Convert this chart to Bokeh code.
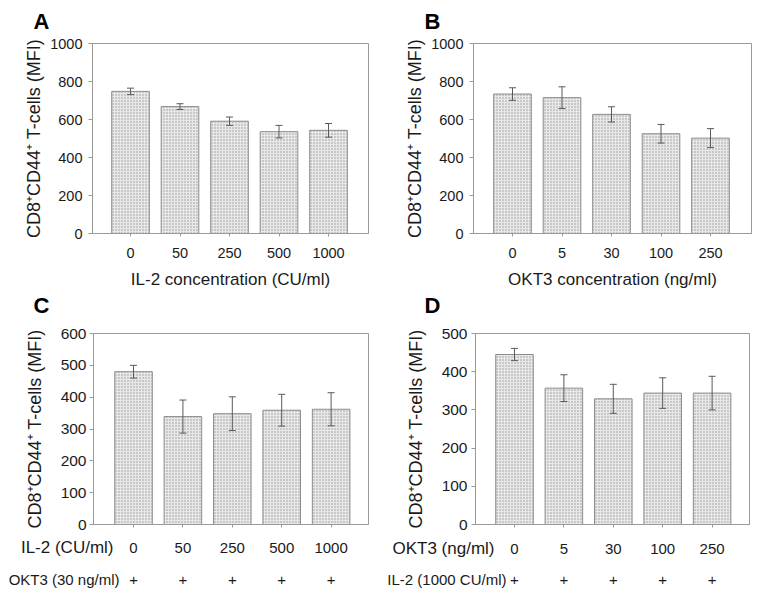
from bokeh.plotting import figure
from bokeh.models import (ColumnDataSource, Range1d, FixedTicker,
                          Whisker, TeeHead, Title)
from bokeh.core.properties import value
from bokeh.layouts import column, row
from bokeh.embed import file_html
from bokeh.resources import INLINE

# ---------------- data ----------------
a_cats = ["0", "50", "250", "500", "1000"]
a_mean = [748, 668, 591, 536, 543]
a_err = [17, 15, 22, 33, 36]
a_yticks = [0, 200, 400, 600, 800, 1000]

b_cats = ["0", "5", "30", "100", "250"]
b_mean = [734, 715, 627, 525, 502]
b_err = [33, 57, 40, 49, 50]
b_yticks = [0, 200, 400, 600, 800, 1000]

c_cats = ["0", "50", "250", "500", "1000"]
c_mean = [480, 339, 348, 359, 362]
c_err = [20, 52, 53, 50, 52]
c_yticks = [0, 100, 200, 300, 400, 500, 600]
c_row1 = "IL-2 (CU/ml)"
c_row2 = "OKT3 (30 ng/ml)"
c_plus = ["+", "+", "+", "+", "+"]

d_cats = ["0", "5", "30", "100", "250"]
d_mean = [445, 357, 329, 344, 344]
d_err = [16, 35, 38, 40, 44]
d_yticks = [0, 100, 200, 300, 400, 500]
d_row1 = "OKT3 (ng/ml)"
d_row2 = "IL-2 (1000 CU/ml)"
d_plus = ["+", "+", "+", "+", "+"]

y_label = "CD8\u207aCD44\u207a T-cells (MFI)"
FONT = "Liberation Sans"
TXT = "#1a1a1a"
GRAY = "#9a9a9a"


def panel(cats, means, errs, yticks, g, letter=None, xlabel=None):
    n = len(cats)
    xs = list(range(n))
    src = ColumnDataSource(dict(
        x=xs, top=means,
        upper=[m + e for m, e in zip(means, errs)],
        lower=[m - e for m, e in zip(means, errs)]))
    p = figure(width=g["W"], height=g["H"],
               x_range=Range1d(g["xs"], g["xe"]),
               y_range=Range1d(0, g["ymax"]),
               output_backend="svg", toolbar_location=None,
               min_border_left=g["left"], min_border_top=g["top"],
               min_border_right=g["W"] - g["left"] - g["fw"],
               min_border_bottom=g["H"] - g["top"] - g["fh"])
    p.grid.visible = False
    p.outline_line_color = GRAY
    p.outline_line_width = 1
    p.background_fill_color = "white"
    p.border_fill_color = "white"

    p.vbar(x="x", top="top", bottom=0, width=0.76, source=src,
           fill_color="#e8e8e8", line_color="#8c8c8c", line_width=1,
           hatch_pattern="dot", hatch_color="#989898", hatch_scale=3,
           hatch_weight=1)
    w = Whisker(base="x", upper="upper", lower="lower", source=src,
                line_color="#5a5a5a", line_width=1, level="annotation",
                upper_head=TeeHead(size=7, line_color="#5a5a5a", line_width=1),
                lower_head=TeeHead(size=7, line_color="#5a5a5a", line_width=1))
    p.add_layout(w)

    xa = p.xaxis[0]
    xa.ticker = FixedTicker(ticks=xs)
    xa.major_tick_out = 3
    xa.major_tick_in = 0
    xa.minor_tick_line_color = None
    xa.axis_line_color = GRAY
    xa.major_tick_line_color = GRAY
    if xlabel:
        xa.major_label_overrides = {i: c for i, c in enumerate(cats)}
        xa.major_label_text_font = FONT
        xa.major_label_text_font_size = "14.5px"
        xa.major_label_text_color = TXT
        xa.major_label_standoff = 11
        xa.axis_label = xlabel
        xa.axis_label_text_font = FONT
        xa.axis_label_text_font_style = "normal"
        xa.axis_label_text_font_size = "17px"
        xa.axis_label_text_color = TXT
        xa.axis_label_standoff = 9
    else:
        # category texts of the lower panels are drawn in the strip below
        xa.major_label_text_color = None
        xa.major_label_standoff = 0

    ya = p.yaxis[0]
    ya.ticker = FixedTicker(ticks=yticks)
    ya.major_tick_out = 4
    ya.major_tick_in = 0
    ya.minor_tick_line_color = None
    ya.axis_line_color = GRAY
    ya.major_tick_line_color = GRAY
    ya.major_label_text_font = FONT
    ya.major_label_text_font_size = g["yfs"]
    ya.major_label_text_color = TXT
    ya.major_label_standoff = g["ystand"]
    ya.axis_label = y_label
    ya.axis_label_text_font = FONT
    ya.axis_label_text_font_style = "normal"
    ya.axis_label_text_font_size = "18px"
    ya.axis_label_text_color = TXT
    ya.axis_label_standoff = g["ylstand"]

    if letter:
        t = Title(text=letter, align="left",
                  offset=g["lx"] - g["ox"] - g["left"],
                  text_font=FONT, text_font_style="bold",
                  text_font_size="22px", text_color="#000000",
                  vertical_align="top", standoff=16)
        p.add_layout(t, "above")
    return p


def strip(cats, plus, row1, row2, g, H, oy, y1, y2, r1x, r2x):
    """Text rows under a lower panel, on the same x scale as its bars."""
    k = (g["xe"] - g["xs"]) / g["fw"]
    x0 = g["xs"] - g["left"] * k
    x1 = g["xs"] + (g["W"] - g["left"]) * k
    p = figure(width=g["W"], height=H, x_range=Range1d(x0, x1),
               y_range=Range1d(oy + H, oy),
               x_axis_location=None, y_axis_location=None,
               output_backend="svg", toolbar_location=None,
               min_border=0, outline_line_color=None)
    p.grid.visible = False
    xs = list(range(len(cats)))
    common = dict(text_font=value(FONT), text_color=TXT, text_baseline="middle")
    p.text(x=xs, y=[y1] * len(xs), text=cats, text_align="center",
           text_font_size=value("15px"), **common)
    p.text(x=xs, y=[y2] * len(xs), text=plus, text_align="center",
           text_font_size=value("15px"), **common)
    fx0 = g["ox"] + g["left"]
    p.text(x=[g["xs"] + (r1x - fx0) * k], y=[y1], text=[row1],
           text_align="right", text_font_size=value("17px"), **common)
    p.text(x=[g["xs"] + (r2x - fx0) * k], y=[y2], text=[row2],
           text_align="right", text_font_size=value("15px"), **common)
    return p


TOP_H = 291     # height of the upper row
MID_H = 31      # band that holds the letters C and D
LOW_Y = TOP_H + MID_H
STRIP_Y = 535   # where the text strip under the lower panels starts
STRIP_H = 62

gA = dict(ox=0, oy=0, W=381, H=TOP_H, left=92, top=43, fw=276, fh=191,
          xs=-0.768, xe=4.808, ymax=1000, yfs="14.5px",
          ystand=6, ylstand=3, lx=33)
gB = dict(ox=381, oy=0, W=373, H=TOP_H, left=92, top=42, fw=278, fh=191,
          xs=-0.788, xe=4.828, ymax=1000, yfs="14.5px",
          ystand=6, ylstand=3, lx=424)
gC = dict(ox=0, oy=LOW_Y, W=381, H=STRIP_Y - LOW_Y, left=93,
          top=333 - LOW_Y, fw=275, fh=191,
          xs=-0.81, xe=4.757, ymax=600, yfs="15.5px",
          ystand=3, ylstand=13)
gD = dict(ox=381, oy=LOW_Y, W=373, H=STRIP_Y - LOW_Y, left=94,
          top=333 - LOW_Y, fw=274, fh=192,
          xs=-0.789, xe=4.757, ymax=500, yfs="15.5px",
          ystand=4, ylstand=13)

pA = panel(a_cats, a_mean, a_err, a_yticks, gA, "A",
           xlabel="IL-2 concentration (CU/ml)")
pB = panel(b_cats, b_mean, b_err, b_yticks, gB, "B",
           xlabel="OKT3 concentration (ng/ml)")
pC = panel(c_cats, c_mean, c_err, c_yticks, gC)
pD = panel(d_cats, d_mean, d_err, d_yticks, gD)

# panel letters of the lower row
mid = figure(width=754, height=MID_H, x_range=Range1d(0, 754),
             y_range=Range1d(LOW_Y, TOP_H), x_axis_location=None,
             y_axis_location=None, output_backend="svg",
             toolbar_location=None, min_border=0, outline_line_color=None)
mid.grid.visible = False
mid.text(x=[33, 424], y=[305, 305], text=["C", "D"], text_align="left",
         text_baseline="middle", text_font=value(FONT),
         text_font_style="bold", text_font_size=value("22px"),
         text_color="#000000")

sC = strip(c_cats, c_plus, c_row1, c_row2, gC, STRIP_H, STRIP_Y, 547, 579, 113, 119)
sD = strip(d_cats, d_plus, d_row1, d_row2, gD, STRIP_H, STRIP_Y, 548, 579, 494, 506)

layout = column(row(pA, pB), mid, row(pC, pD), row(sC, sD))
open("out.html", "w").write(file_html(layout, INLINE))
